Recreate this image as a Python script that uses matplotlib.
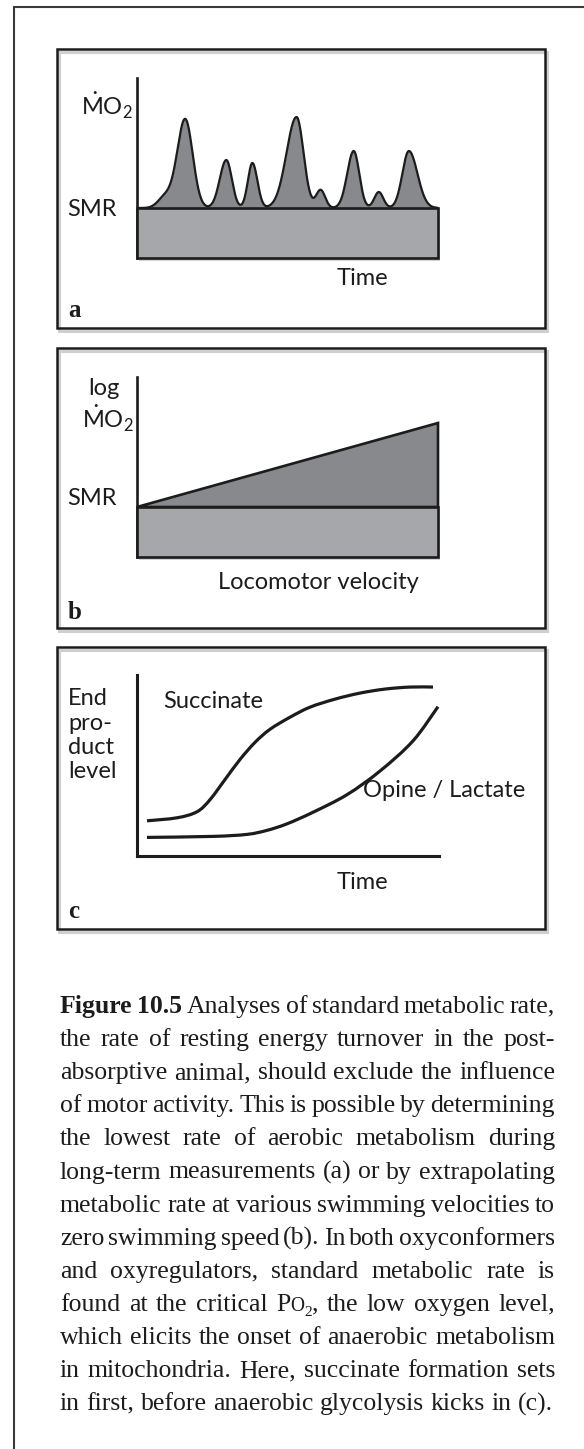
import numpy as np
import matplotlib
matplotlib.use('Agg')
import matplotlib.pyplot as plt
from matplotlib.patches import Rectangle, Polygon, PathPatch
from matplotlib.path import Path
from matplotlib.transforms import offset_copy

W, H = 584, 1449

# =========================
# data
# =========================

# (a) spontaneous activity on top of standard metabolic rate
smr = 1.0
time_end = 300
peak_time = [28, 48, 89, 115, 159, 183, 216, 241, 271]
peak_height = [0.22, 1.78, 0.96, 0.90, 1.82, 0.36, 1.14, 0.32, 1.14]
peak_left = [7, 8, 6.5, 4.5, 10, 4.5, 6.5, 4.5, 6.5]
peak_right = [7, 7.5, 5.5, 5, 7, 4.5, 5.5, 4.5, 8.5]

# (b) log MO2 against swimming velocity
velocity = [0, 300]
log_mo2 = [1.0, 2.68]

# (c) end product accumulation
succinate_t = [10, 40, 60, 73, 88, 103, 118, 133, 153, 173, 198, 223, 248, 273, 296]
succinate_y = [0.70, 0.76, 0.88, 1.12, 1.52, 1.92, 2.26, 2.52, 2.76, 2.96, 3.12, 3.24, 3.32, 3.36, 3.36]
opine_t = [10, 76, 110, 130, 150, 176, 210, 243, 276, 301]
opine_y = [0.37, 0.39, 0.43, 0.51, 0.64, 0.87, 1.22, 1.69, 2.29, 2.97]

caption_lines = [
    'Figure 10.5 Analyses of standard metabolic rate,',
    'the rate of resting energy turnover in the post-',
    'absorptive animal, should exclude the influence',
    'of motor activity. This is possible by determining',
    'the lowest rate of aerobic metabolism during',
    'long-term measurements (a) or by extrapolating',
    'metabolic rate at various swimming velocities to',
    'zero swimming speed (b). In both oxyconformers',
    'and oxyregulators, standard metabolic rate is',
    'found at the critical PO2, the low oxygen level,',
    'which elicits the onset of anaerobic metabolism',
    'in mitochondria. Here, succinate formation sets',
    'in first, before anaerobic glycolysis kicks in (c).',
]

LIGHT = '#a6a7aa'
DARK = '#88898c'
INK = '#1c1c1c'
SANS = 'Lato'
SERIF = 'Liberation Serif'
LABEL_SIZE = 17
CAP_SIZE = 18.5

plt.rcParams['mathtext.fontset'] = 'custom'
plt.rcParams['mathtext.rm'] = SANS
plt.rcParams['mathtext.it'] = SANS + ':italic'
plt.rcParams['mathtext.bf'] = SANS + ':bold'


def fig_rect(x0, y0, x1, y1):
    return [x0 / W, 1 - y1 / H, (x1 - x0) / W, (y1 - y0) / H]


def smooth_path(xs, ys):
    # Catmull-Rom through the points, written as cubic Bezier segments
    pts = np.column_stack([xs, ys]).astype(float)
    p = np.vstack([pts[0], pts, pts[-1]])
    verts = [pts[0]]
    codes = [Path.MOVETO]
    for i in range(1, len(p) - 2):
        c1 = p[i] + (p[i + 1] - p[i - 1]) / 6
        c2 = p[i + 1] - (p[i + 2] - p[i]) / 6
        verts += [c1, c2, p[i + 1]]
        codes += [Path.CURVE4] * 3
    return Path(verts, codes)


def panel_axes(fig, box, xmax=300, spines=('left',)):
    ax = fig.add_axes(fig_rect(*box))
    ax.set_xlim(0, xmax)
    ax.set_ylim(0, 3.6)
    ax.set_facecolor('none')
    ax.set_xticks([])
    ax.set_yticks([])
    for name, sp in ax.spines.items():
        sp.set_visible(name in spines)
        sp.set_linewidth(1.9)
        sp.set_color(INK)
        sp.set_capstyle('projecting')
    return ax


def smr_box(fig, ax):
    shadow = offset_copy(ax.transData, fig, x=2, y=-3, units='dots')
    ax.add_patch(Rectangle((0, 0), time_end, smr, facecolor='#d4d4d4', edgecolor='none',
                           transform=shadow, zorder=1, clip_on=False))
    ax.add_patch(Rectangle((0, 0), time_end, smr, facecolor=LIGHT, edgecolor=INK,
                           linewidth=1.9, zorder=4, clip_on=False))


fig = plt.figure(figsize=(W / 100, H / 100), dpi=100)
bg = fig.add_axes([0, 0, 1, 1])
bg.set_xlim(0, W)
bg.set_ylim(H, 0)
bg.axis('off')

# outer page frame
bg.plot([14, 14, W], [H, 7, 7], color='#3a3a3a', linewidth=1.5, solid_joinstyle='miter')

# panel frames with a soft drop shadow
for y0, y1 in [(49, 328), (348, 628), (647, 929)]:
    bg.add_patch(Rectangle((59, y0 + 3), 488, y1 - y0, facecolor='none', edgecolor='#cfcfcf',
                           linewidth=2.2, zorder=1))
    bg.add_patch(Rectangle((57, y0), 488, y1 - y0, facecolor='none', edgecolor=INK,
                           linewidth=1.8, zorder=2))

# =========================
# (a)
# =========================
ax_a = panel_axes(fig, (137, 78, 438, 258))
t = np.linspace(0, time_end, 1501)
activity = np.zeros_like(t)
for c, h, sl, sr in zip(peak_time, peak_height, peak_left, peak_right):
    s = np.where(t < c, sl, sr)
    activity += h * np.exp(-0.5 * ((t - c) / s) ** 2)
ax_a.fill_between(t, smr, smr + activity, color=DARK, linewidth=0, zorder=2)
ax_a.plot(t, smr + activity, color=INK, linewidth=1.6, zorder=3)
smr_box(fig, ax_a)

# =========================
# (b)
# =========================
ax_b = panel_axes(fig, (137, 377, 438, 557))
ax_b.add_patch(Polygon([(velocity[0], log_mo2[0]), (velocity[1], log_mo2[1]), (velocity[1], smr)],
                       closed=True, facecolor=DARK, edgecolor=INK, linewidth=1.9,
                       joinstyle='miter', zorder=3, clip_on=False))
smr_box(fig, ax_b)

# =========================
# (c)
# =========================
ax_c = panel_axes(fig, (137, 675, 439, 856), xmax=302, spines=('left', 'bottom'))
for sp in ax_c.spines.values():
    sp.set_linewidth(2.2)
for xs, ys in [(succinate_t, succinate_y), (opine_t, opine_y)]:
    ax_c.add_patch(PathPatch(smooth_path(xs, ys), facecolor='none', edgecolor=INK,
                             linewidth=2.3, capstyle='butt', clip_on=False))

# =========================
# labels
# =========================
lab = dict(family=SANS, fontsize=LABEL_SIZE, color=INK, va='baseline')
mo2 = r'$\dot{\mathrm{M}}\mathrm{O}_{2}$'

bg.text(81, 115, mo2, ha='left', **lab)
bg.text(67, 216, 'SMR', ha='left', **lab)
bg.text(362, 285, 'Time', ha='center', **lab)

bg.text(104, 395, 'log', ha='center', **lab)
bg.text(82, 428, mo2, ha='left', **lab)
bg.text(67, 505, 'SMR', ha='left', **lab)
bg.text(318, 589, 'Locomotor velocity', ha='center', **lab)

for k, word in enumerate(['End', 'pro-', 'duct', 'level']):
    bg.text(68, 705 + 24.5 * k, word, ha='left', **lab)
bg.text(163, 708, 'Succinate', ha='left', **lab)
bg.text(363, 797, 'Opine / Lactate', ha='left', **lab)
bg.text(362, 889, 'Time', ha='center', **lab)

for letter, yb in zip(['a', 'b', 'c'], [317, 619, 918]):
    bg.text(68, yb, letter, family=SERIF, fontweight='bold', fontsize=18, color=INK,
            va='baseline', ha='left')

# =========================
# caption, justified
# =========================
renderer = fig.canvas.get_renderer()
cap_left, cap_right = 60, 555
cap_base, cap_step = 1013, 33.1
space = 0.25 * CAP_SIZE * 100 / 72


def word_parts(word):
    if word == 'PO2,':
        return [('P', 1.0, 0), ('O', 0.76, 0), ('2', 0.6, 5), (',', 1.0, 0)]
    return [(word, 1.0, 0)]


for i, line in enumerate(caption_lines):
    y = cap_base + i * cap_step
    placed = []
    for j, word in enumerate(line.split(' ')):
        weight = 'bold' if (i == 0 and j < 2) else 'normal'
        arts, width = [], 0.0
        for s, scale, dy in word_parts(word):
            txt = bg.text(0, y + dy, s, family=SERIF, fontsize=CAP_SIZE * scale,
                          fontweight=weight, color=INK, va='baseline', ha='left')
            arts.append((txt, width))
            width += txt.get_window_extent(renderer).width
        placed.append((arts, width))
    total = sum(w for _, w in placed)
    if i == len(caption_lines) - 1:
        gap = space
    else:
        gap = (cap_right - cap_left - total) / (len(placed) - 1)
    x = cap_left
    for arts, width in placed:
        for txt, off in arts:
            txt.set_x(x + off)
        x += width + gap

fig.savefig('out.png', dpi=100)
plt.close('all')
